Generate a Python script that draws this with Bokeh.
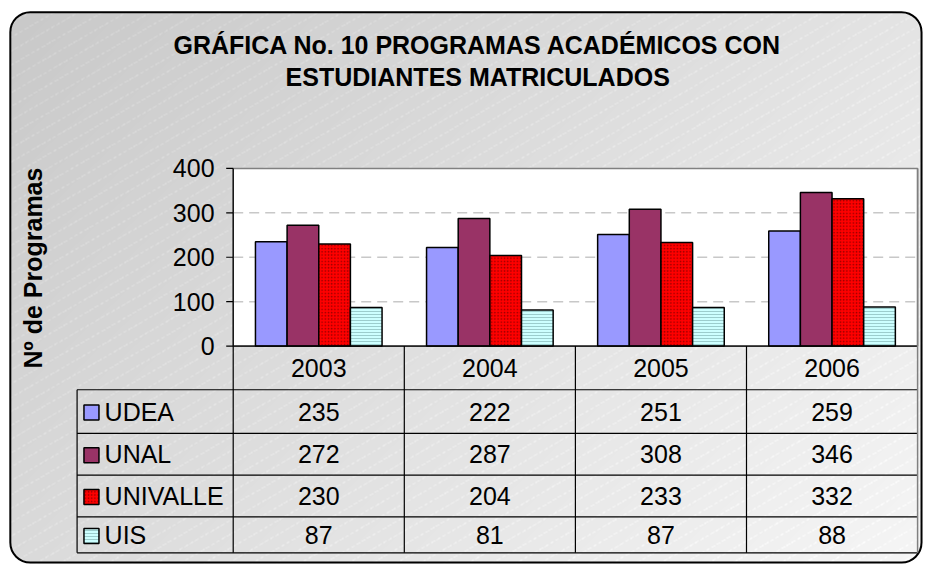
import numpy as np
from bokeh.plotting import figure
from bokeh.models import Range1d
from bokeh.core.properties import value
from bokeh.embed import file_html
from bokeh.resources import INLINE

# ---------------- data ----------------
years = ["2003", "2004", "2005", "2006"]
series = ["UDEA", "UNAL", "UNIVALLE", "UIS"]
udea = [235, 222, 251, 259]
unal = [272, 287, 308, 346]
univalle = [230, 204, 233, 332]
uis = [87, 81, 87, 88]
y_ticks = [0, 100, 200, 300, 400]
title_lines = ["GRÁFICA No. 10 PROGRAMAS ACADÉMICOS CON", "ESTUDIANTES MATRICULADOS"]
y_label = "Nº de  Programas"

values_by_series = [udea, unal, univalle, uis]

# ---------------- styles ----------------
FONT = value("Liberation Sans")
FS = "25px"
fills = ["#9999ff", "#993366", "#ff0000", "#ccffff"]
hatches = [None, None, "dot", "horizontal_line"]
hatch_colors = ["black", "black", "#7a0000", "#8fc0c0"]
hatch_scales = [12, 12, 3.2, 3.0]

W, H = 924, 566


def px(ax):
    return ax * (922 / 939)


def py(ay):
    return ay * (564 / 581)


PL, PR, PT, PB = px(237), px(934), py(173), py(356)
ncat = len(years)
YMAX = y_ticks[-1]
cw = (PR - PL) / ncat
ys = (PB - PT) / YMAX


def dx(cx):
    return (cx - PL) / cw


def dy(cy):
    return (PB - cy) / ys


p = figure(width=W, height=H,
           x_range=Range1d(dx(0), dx(W)), y_range=Range1d(dy(H), dy(0)),
           output_backend="svg", toolbar_location=None, min_border=0,
           x_axis_type=None, y_axis_type=None, outline_line_color=None,
           background_fill_color="white", border_fill_color="white")

# ---------------- background: gradient + faint stripes in a rounded box ----------------
BL, BR, BT, BB, RAD = px(10), px(938), py(12), py(579), 20
yy, xx = np.mgrid[0:H, 0:W].astype(float)
v = 200 + 28 * xx / W + 18 * yy / H
a = np.deg2rad(30)
d = xx * np.sin(a) + yy * np.cos(a)
t = xx * np.cos(a) - yy * np.sin(a)
stripe = ((d % 12) < 1.0) & ((t % 6) < 4)
v = np.clip(v + 12 * stripe, 0, 255).astype(np.uint32)
inside = (xx >= BL) & (xx <= BR) & (yy >= BT) & (yy <= BB)
for cx0, cy0, sx, sy in [(BL + RAD, BT + RAD, -1, -1), (BR - RAD, BT + RAD, 1, -1),
                         (BL + RAD, BB - RAD, -1, 1), (BR - RAD, BB - RAD, 1, 1)]:
    corner = ((xx - cx0) * sx > 0) & ((yy - cy0) * sy > 0)
    outside = (xx - cx0) ** 2 + (yy - cy0) ** 2 > RAD ** 2
    inside &= ~(corner & outside)
alpha = np.where(inside, 255, 0).astype(np.uint32)
img = (alpha << 24) | (v << 16) | (v << 8) | v
img = np.flipud(img).astype(np.uint32)
p.image_rgba(image=[img], x=dx(0), y=dy(H), dw=dx(W) - dx(0), dh=dy(0) - dy(H))

p.quad(left=[dx(BL)], right=[dx(BR)], top=[dy(BT)], bottom=[dy(BB)],
       fill_color=None, line_color="black", line_width=2, border_radius=RAD)

# ---------------- plot area ----------------
p.quad(left=[0], right=[ncat], bottom=[0], top=[YMAX], fill_color="white",
       line_color="#808080", line_width=1.5)
for tv in y_ticks[1:-1]:
    p.segment(x0=[0], x1=[ncat], y0=[tv], y1=[tv], line_color="#c8c8c8",
              line_width=1.5, line_dash="10 6")

# bars
bw = 0.185
for k, vals in enumerate(values_by_series):
    xs = [i + 0.5 + (k - 1.5) * bw for i in range(ncat)]
    kw = dict(x=xs, top=vals, width=bw, fill_color=fills[k],
              line_color="black", line_width=1.5)
    if hatches[k]:
        kw.update(hatch_pattern=hatches[k], hatch_color=hatch_colors[k],
                  hatch_scale=hatch_scales[k], hatch_weight=1, hatch_alpha=0.8)
    p.vbar(**kw)

# y axis (line, ticks, labels)
p.segment(x0=[0], x1=[0], y0=[0], y1=[YMAX], line_color="black", line_width=1.2)
p.segment(x0=[dx(PL - 7)] * len(y_ticks), x1=[0] * len(y_ticks), y0=y_ticks, y1=y_ticks,
          line_color="black", line_width=1.2)
p.text(x=[dx(px(218))] * len(y_ticks), y=y_ticks, text=[str(tv) for tv in y_ticks],
       text_align="right", text_baseline="middle", text_font=FONT,
       text_font_size=FS, text_color="black")

# ---------------- data table ----------------
row_edges = [PB, py(401), py(446), py(489), py(532), py(569)]
TL = px(78)
# horizontal lines
p.segment(x0=[0], x1=[ncat], y0=[0], y1=[0], line_color="black", line_width=1.2)
p.segment(x0=[dx(TL)] * 5, x1=[ncat] * 5, y0=[dy(c) for c in row_edges[1:]],
          y1=[dy(c) for c in row_edges[1:]], line_color="black", line_width=1.2)
# vertical lines
p.segment(x0=list(range(ncat)), x1=list(range(ncat)), y0=[0] * ncat,
          y1=[dy(row_edges[-1])] * ncat, line_color="black", line_width=1.2)
p.segment(x0=[ncat], x1=[ncat], y0=[YMAX], y1=[dy(row_edges[-1])],
          line_color="#808080", line_width=1.5)
p.segment(x0=[dx(TL)], x1=[dx(TL)], y0=[dy(row_edges[1])], y1=[dy(row_edges[-1])],
          line_color="black", line_width=1.2)

# year labels
yc = dy((row_edges[0] + row_edges[1]) / 2)
p.text(x=[i + 0.5 for i in range(ncat)], y=[yc] * ncat, text=years,
       text_align="center", text_baseline="middle", text_font=FONT,
       text_font_size=FS, text_color="black")

# rows
ksz = 15
for k, (name, vals) in enumerate(zip(series, values_by_series)):
    cyc = (row_edges[k + 1] + row_edges[k + 2]) / 2
    p.text(x=[i + 0.5 for i in range(ncat)], y=[dy(cyc)] * ncat, text=[str(vv) for vv in vals],
           text_align="center", text_baseline="middle", text_font=FONT,
           text_font_size=FS, text_color="black")
    kx0 = px(85)
    kw = dict(left=[dx(kx0)], right=[dx(kx0 + ksz)], top=[dy(cyc - ksz / 2 + 1)],
              bottom=[dy(cyc + ksz / 2 + 1)], fill_color=fills[k], line_color="black",
              line_width=1.5)
    if hatches[k]:
        kw.update(hatch_pattern=hatches[k], hatch_color=hatch_colors[k],
                  hatch_scale=hatch_scales[k], hatch_weight=1, hatch_alpha=0.8)
    p.quad(**kw)
    p.text(x=[dx(px(106))], y=[dy(cyc)], text=[name], text_align="left",
           text_baseline="middle", text_font=FONT, text_font_size=FS,
           text_color="black")

# ---------------- titles ----------------
p.text(x=[dx(px(486))] * 2, y=[dy(py(46)), dy(py(79))], text=title_lines,
       text_align="center", text_baseline="middle", text_font=FONT,
       text_font_size=FS, text_font_style="bold", text_color="black")
p.text(x=[dx(px(33))], y=[dy(py(272))], text=[y_label], angle=np.pi / 2,
       text_align="center", text_baseline="middle", text_font=FONT,
       text_font_size=FS, text_font_style="bold", text_color="black")

open("out.html", "w").write(file_html(p, INLINE))
